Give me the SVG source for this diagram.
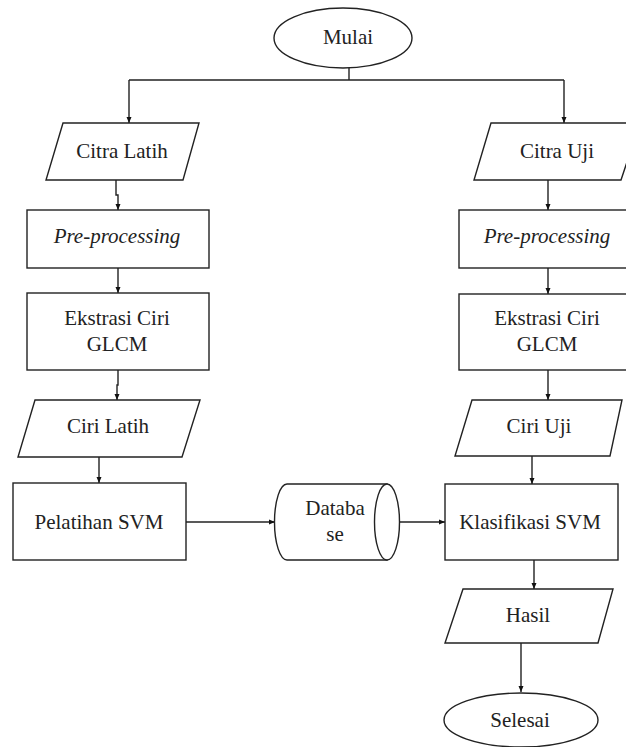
<svg xmlns="http://www.w3.org/2000/svg" width="626" height="747" viewBox="0 0 626 747">
<defs>
<marker id="arr" markerWidth="8" markerHeight="8" refX="7" refY="4" orient="auto" markerUnits="userSpaceOnUse">
<path d="M1,1.5 L7,4 L1,6.5 Z" fill="#111"/>
</marker>
<style>
.s{fill:#fff;stroke:#222;stroke-width:1.4}
.t{font-family:"Liberation Serif","Times New Roman",serif;font-size:21px;fill:#222;text-anchor:middle}
.i{font-style:italic}
.c{fill:none;stroke:#222;stroke-width:1.4;marker-end:url(#arr)}
.l{fill:none;stroke:#222;stroke-width:1.4}
</style>
</defs>
<rect width="626" height="747" fill="#fff"/>
<g id="connectors">
<path class="l" d="M349,68 V80"/>
<path class="c" d="M129,80 H564 M129,80 V123"/>
<path class="c" d="M564,80 V123"/>
<path class="c" d="M116,180 V195 H118 V210"/>
<path class="c" d="M118,268 V293"/>
<path class="c" d="M118,370 V385 H117 V400"/>
<path class="c" d="M99,457 V483"/>
<path class="c" d="M186,522 H275"/>
<path class="c" d="M399,522 H445"/>
<path class="c" d="M548,180 V210"/>
<path class="c" d="M548,268 V294"/>
<path class="c" d="M548,370 V400"/>
<path class="c" d="M532,456 V484"/>
<path class="c" d="M534,560 V589"/>
<path class="c" d="M521,643 V692"/>
</g>
<g id="mulai">
<ellipse class="s" cx="343" cy="38" rx="69" ry="30"/>
<text class="t" x="348" y="44">Mulai</text>
</g>
<g id="citra-latih">
<polygon class="s" points="63,123 199,123 183,180 46,180"/>
<text class="t" x="122" y="158">Citra Latih</text>
</g>
<g id="pre-latih">
<rect class="s" x="27" y="210" width="182" height="58"/>
<text class="t i" x="117" y="243">Pre-processing</text>
</g>
<g id="ekstrasi-latih">
<rect class="s" x="27" y="293" width="182" height="77"/>
<text class="t" x="117" y="325">Ekstrasi Ciri</text>
<text class="t" x="117" y="351">GLCM</text>
</g>
<g id="ciri-latih">
<polygon class="s" points="35,400 200,400 182,457 18,457"/>
<text class="t" x="108" y="433">Ciri Latih</text>
</g>
<g id="pelatihan">
<rect class="s" x="13" y="483" width="173" height="77"/>
<text class="t" x="99" y="529">Pelatihan SVM</text>
</g>
<g id="database">
<path class="s" d="M287,484 H387 V560 H287 A12.5,38 0 0 1 287,484 Z"/>
<ellipse class="s" cx="387" cy="522" rx="12.5" ry="38"/>
<text class="t" x="335" y="515">Databa</text>
<text class="t" x="335" y="541">se</text>
</g>
<g id="citra-uji">
<polygon class="s" points="491,123 640,123 621,180 474,180"/>
<text class="t" x="557" y="158">Citra Uji</text>
</g>
<g id="pre-uji">
<rect class="s" x="459" y="210" width="190" height="58"/>
<text class="t i" x="547" y="243">Pre-processing</text>
</g>
<g id="ekstrasi-uji">
<rect class="s" x="459" y="294" width="190" height="76"/>
<text class="t" x="547" y="325">Ekstrasi Ciri</text>
<text class="t" x="547" y="351">GLCM</text>
</g>
<g id="ciri-uji">
<polygon class="s" points="472,400 622,400 610,456 455,456"/>
<text class="t" x="539" y="433">Ciri Uji</text>
</g>
<g id="klasifikasi">
<rect class="s" x="445" y="484" width="173" height="76"/>
<text class="t" x="530" y="529">Klasifikasi SVM</text>
</g>
<g id="hasil">
<polygon class="s" points="463,589 613,589 598,643 445,643"/>
<text class="t" x="528" y="622">Hasil</text>
</g>
<g id="selesai">
<ellipse class="s" cx="521" cy="720" rx="77" ry="27"/>
<text class="t" x="520" y="727">Selesai</text>
</g>
</svg>
